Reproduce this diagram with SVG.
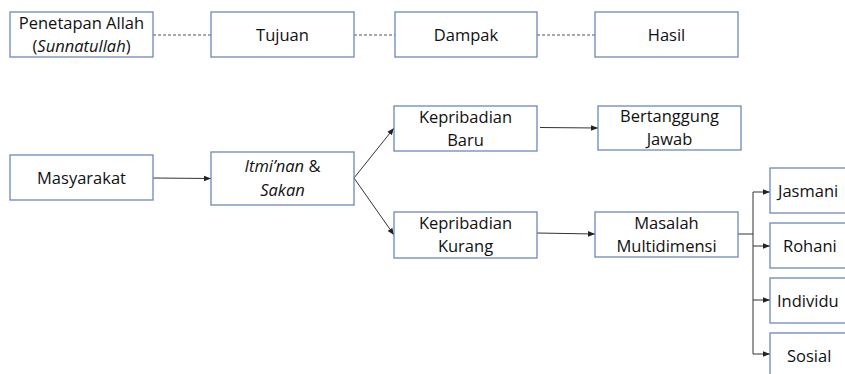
<svg xmlns="http://www.w3.org/2000/svg" width="845" height="374" viewBox="0 0 845 374">
<style>
.box{fill:#fff;stroke:#6f87b9;stroke-width:1.3}
.t{font-family:"Open Sans","Liberation Sans",sans-serif;font-size:16.5px;fill:#111}
.c{text-anchor:middle}
.ln{fill:none;stroke:#333;stroke-width:1}
.ds{fill:none;stroke:#555;stroke-width:1;stroke-dasharray:3,2}
</style>
<defs>
<marker id="ah" viewBox="0 0 10 10" refX="10" refY="5" markerWidth="7" markerHeight="7" orient="auto" markerUnits="userSpaceOnUse">
<path d="M0,1 L10,5 L0,9 Z" fill="#222"/>
</marker>
</defs>
<rect width="845" height="374" fill="#fff"/>
<g id="connectors">
<line class="ds" x1="153" y1="35" x2="211" y2="35"/>
<line class="ds" x1="354" y1="35" x2="395" y2="35"/>
<line class="ds" x1="537" y1="35" x2="595" y2="35"/>
<line class="ln" x1="153" y1="178" x2="211" y2="178.5" marker-end="url(#ah)"/>
<line class="ln" x1="354" y1="178" x2="394" y2="128" marker-end="url(#ah)"/>
<line class="ln" x1="354" y1="178" x2="394" y2="235" marker-end="url(#ah)"/>
<line class="ln" x1="540" y1="127.5" x2="598" y2="128" marker-end="url(#ah)"/>
<line class="ln" x1="537" y1="233" x2="595" y2="234" marker-end="url(#ah)"/>
<polyline class="ln" points="738,234 753,234"/>
<line class="ln" x1="753" y1="192" x2="753" y2="354"/>
<line class="ln" x1="753" y1="192" x2="770" y2="192" marker-end="url(#ah)"/>
<line class="ln" x1="753" y1="246" x2="770" y2="246" marker-end="url(#ah)"/>
<line class="ln" x1="753" y1="300" x2="770" y2="300" marker-end="url(#ah)"/>
<line class="ln" x1="753" y1="354" x2="770" y2="354" marker-end="url(#ah)"/>
</g>
<g id="penetapan"><rect class="box" x="10" y="12" width="143" height="45"/>
<text class="t c" x="81.5" y="29">Penetapan Allah</text>
<text class="t c" x="81.5" y="52">(<tspan font-style="italic">Sunnatullah</tspan>)</text></g>
<g id="tujuan"><rect class="box" x="211" y="12" width="143" height="45"/>
<text class="t c" x="282.5" y="41">Tujuan</text></g>
<g id="dampak"><rect class="box" x="395" y="12" width="142" height="45"/>
<text class="t c" x="466" y="41">Dampak</text></g>
<g id="hasil"><rect class="box" x="595" y="12" width="143" height="45"/>
<text class="t c" x="666.5" y="41">Hasil</text></g>
<g id="masyarakat"><rect class="box" x="10" y="155" width="143" height="45"/>
<text class="t c" x="81.5" y="184">Masyarakat</text></g>
<g id="itminan"><rect class="box" x="211" y="152" width="143" height="53"/>
<text class="t c" x="282.5" y="172"><tspan font-style="italic">Itmi’nan</tspan> &amp;</text>
<text class="t c" x="282.5" y="196" font-style="italic">Sakan</text></g>
<g id="kepribadian-baru"><rect class="box" x="394" y="106" width="143" height="45"/>
<text class="t c" x="465.5" y="123">Kepribadian</text>
<text class="t c" x="465.5" y="146">Baru</text></g>
<g id="bertanggung-jawab"><rect class="box" x="598" y="106" width="143" height="44"/>
<text class="t c" x="669.5" y="122">Bertanggung</text>
<text class="t c" x="669.5" y="145">Jawab</text></g>
<g id="kepribadian-kurang"><rect class="box" x="394" y="212" width="143" height="46"/>
<text class="t c" x="465.5" y="229">Kepribadian</text>
<text class="t c" x="465.5" y="252">Kurang</text></g>
<g id="masalah"><rect class="box" x="595" y="212" width="143" height="45"/>
<text class="t c" x="666.5" y="229">Masalah</text>
<text class="t c" x="666.5" y="252">Multidimensi</text></g>
<g id="jasmani"><rect class="box" x="770" y="168" width="100" height="45"/>
<text class="t" x="778" y="197">Jasmani</text></g>
<g id="rohani"><rect class="box" x="770" y="223" width="100" height="45"/>
<text class="t" x="783" y="252">Rohani</text></g>
<g id="individu"><rect class="box" x="770" y="278" width="100" height="45"/>
<text class="t" x="777" y="307">Individu</text></g>
<g id="sosial"><rect class="box" x="770" y="333" width="100" height="45"/>
<text class="t" x="787" y="362">Sosial</text></g>
</svg>
